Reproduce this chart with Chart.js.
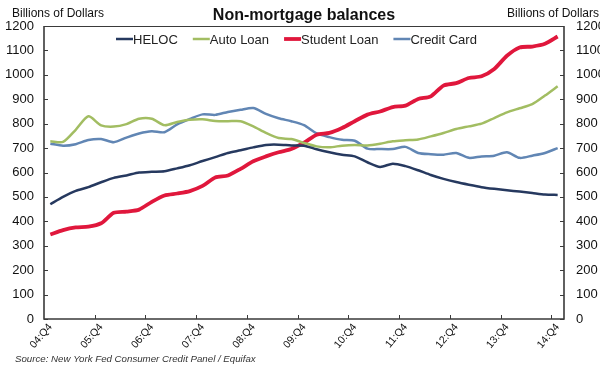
<!DOCTYPE html>
<html>
<head>
<meta charset="utf-8">
<script src="https://cdn.jsdelivr.net/npm/chart.js@4"></script>
<style>
  body { margin: 0; background: #fff; }
  canvas { display: block; }
</style>
</head>
<body>
<canvas id="balChart" width="600" height="369"></canvas>
<script>
const quarters = [
  "04:Q4", "05:Q1", "05:Q2", "05:Q3", "05:Q4", "06:Q1", "06:Q2", "06:Q3", "06:Q4",
  "07:Q1", "07:Q2", "07:Q3", "07:Q4", "08:Q1", "08:Q2", "08:Q3", "08:Q4",
  "09:Q1", "09:Q2", "09:Q3", "09:Q4", "10:Q1", "10:Q2", "10:Q3", "10:Q4",
  "11:Q1", "11:Q2", "11:Q3", "11:Q4", "12:Q1", "12:Q2", "12:Q3", "12:Q4",
  "13:Q1", "13:Q2", "13:Q3", "13:Q4", "14:Q1", "14:Q2", "14:Q3", "14:Q4"
]

const heloc = [470, 500, 525, 540, 560, 578, 588, 600, 603, 605, 617, 630, 647, 663, 680, 691, 703, 713, 714, 711,
  710, 695, 683, 673, 666, 642, 623, 636, 626, 609, 590, 574, 561, 550, 540, 533, 527, 522, 516, 510, 508]
const autoLoan = [728, 725, 775, 830, 793, 788, 798, 820, 820, 794, 807, 816, 818, 811, 810, 810, 789, 762, 741, 737,
  721, 707, 703, 710, 713, 711, 718, 728, 732, 735, 748, 762, 778, 789, 800, 823, 846, 863, 880, 915, 953]
const studentLoan = [346, 364, 375, 378, 392, 435, 440, 448, 480, 506, 514, 524, 545, 580, 588, 615, 646, 666, 683, 696,
  722, 755, 762, 782, 810, 837, 850, 868, 874, 901, 912, 956, 966, 987, 994, 1024, 1078, 1112, 1116, 1127, 1157]
const creditCard = [718, 710, 716, 733, 737, 724, 743, 760, 769, 765, 797, 819, 838, 836, 848, 857, 864, 840, 822, 810,
  794, 760, 745, 734, 730, 698, 696, 696, 705, 680, 675, 673, 680, 660, 666, 669, 683, 660, 669, 680, 700]

const yTicks = [0, 100, 200, 300, 400, 500, 600, 700, 800, 900, 1000, 1100, 1200]

const FONT = "'Liberation Sans', Arial, sans-serif"

// frame, inward tick marks, titles, legend and source note
const decor = {
  id: "decor",
  afterDraw(chart) {
    const ctx = chart.ctx
    const a = chart.chartArea
    const x = chart.scales.x
    const yl = chart.scales.y
    ctx.save()

    ctx.strokeStyle = "#3a3a3a"
    ctx.lineWidth = 1
    ctx.beginPath()
    ctx.moveTo(a.left, a.top + 0.5)
    ctx.lineTo(a.right, a.top + 0.5)
    ctx.stroke()
    ctx.lineWidth = 1.6
    ctx.beginPath()
    ctx.moveTo(a.left, a.top)
    ctx.lineTo(a.left, a.bottom)
    ctx.lineTo(a.right, a.bottom)
    ctx.lineTo(a.right, a.top)
    ctx.stroke()

    ctx.lineWidth = 1
    ctx.beginPath()
    yTicks.forEach(v => {
      const py = Math.round(yl.getPixelForValue(v)) + 0.5
      ctx.moveTo(a.left, py); ctx.lineTo(a.left + 4, py)
      ctx.moveTo(a.right, py); ctx.lineTo(a.right - 4, py)
    })
    const half = (x.getPixelForValue(1) - x.getPixelForValue(0)) / 2
    for (let i = 4; i < quarters.length; i += 4) {
      const px = Math.round(x.getPixelForValue(i) - half) + 0.5
      ctx.moveTo(px, a.bottom); ctx.lineTo(px, a.bottom - 4)
    }
    ctx.stroke()

    ctx.fillStyle = "#111"
    ctx.textBaseline = "middle"
    ctx.font = "bold 16px " + FONT
    ctx.textAlign = "center"
    ctx.fillText("Non-mortgage balances", 304, 16)

    ctx.font = "12px " + FONT
    ctx.textAlign = "left"
    ctx.fillText("Billions of Dollars", 12, 14)
    ctx.textAlign = "right"
    ctx.fillText("Billions of Dollars", 599, 14)

    ctx.font = "13px " + FONT
    ctx.textAlign = "left"
    let lx = 116
    chart.data.datasets.forEach(ds => {
      ctx.strokeStyle = ds.borderColor
      ctx.lineWidth = ds.borderWidth
      ctx.beginPath()
      ctx.moveTo(lx, 39)
      ctx.lineTo(lx + 17, 39)
      ctx.stroke()
      ctx.fillStyle = "#222"
      ctx.fillText(ds.label, lx + 17, 40)
      lx += 17 + ctx.measureText(ds.label).width + 15
    })

    ctx.font = "italic 9.7px " + FONT
    ctx.fillStyle = "#333"
    ctx.fillText("Source: New York Fed Consumer Credit Panel / Equifax", 15, 359)
    ctx.restore()
  }
}

const series = [
  { label: "HELOC", data: heloc, color: "#26395f", width: 2.5 },
  { label: "Auto Loan", data: autoLoan, color: "#a2bd62", width: 2.5 },
  { label: "Student Loan", data: studentLoan, color: "#e0173c", width: 3.8 },
  { label: "Credit Card", data: creditCard, color: "#6186b4", width: 2.5 }
]

const plain = v => String(v)
const noGrid = { display: false, drawTicks: false }

new Chart(document.getElementById("balChart"), {
  type: "line",
  data: {
    labels: quarters,
    datasets: series.map(s => ({
      label: s.label,
      data: s.data,
      borderColor: s.color,
      backgroundColor: s.color,
      borderWidth: s.width,
      pointRadius: 0,
      tension: 0.25,
      fill: false
    }))
  },
  options: {
    responsive: false,
    devicePixelRatio: 1,
    animation: false,
    layout: { padding: { top: 26, left: 0, right: 0, bottom: 0 } },
    plugins: {
      legend: { display: false },
      title: { display: false },
      tooltip: { enabled: false }
    },
    scales: {
      x: {
        type: "category",
        offset: true,
        grid: noGrid,
        border: { display: false },
        afterFit: s => { s.height = 50 },
        ticks: {
          autoSkip: false,
          minRotation: 50,
          maxRotation: 50,
          padding: 2,
          color: "#111",
          font: { family: FONT, size: 10.5 },
          callback: (v, i) => i % 4 === 0 ? quarters[i] : null
        }
      },
      y: {
        position: "left",
        min: 0,
        max: 1200,
        grid: noGrid,
        border: { display: false },
        afterFit: s => { s.width = 44 },
        afterBuildTicks: s => { s.ticks = yTicks.map(v => ({ value: v })) },
        ticks: { padding: 10, color: "#111", font: { family: FONT, size: 13 }, callback: plain }
      },
      y2: {
        position: "right",
        min: 0,
        max: 1200,
        grid: noGrid,
        border: { display: false },
        afterFit: s => { s.width = 36 },
        afterBuildTicks: s => { s.ticks = yTicks.map(v => ({ value: v })) },
        ticks: { padding: 12, color: "#111", font: { family: FONT, size: 13 }, callback: plain }
      }
    }
  },
  plugins: [decor]
})
</script>
</body>
</html>
